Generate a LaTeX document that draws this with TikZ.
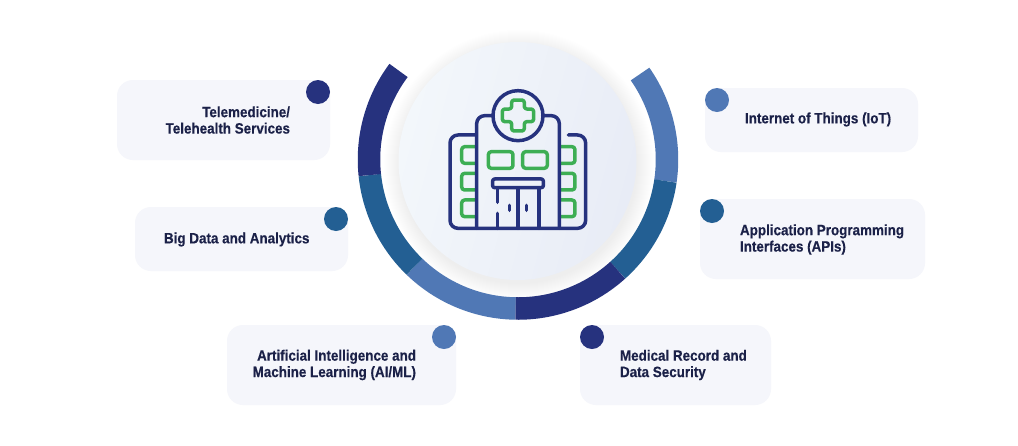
\documentclass[tikz,border=0pt]{standalone}
\usepackage{fontspec}
\setmainfont[FakeStretch=0.895,BoldFont={Liberation Sans Bold},BoldFeatures={FakeBold=0.4}]{Liberation Sans}
\definecolor{navy}{HTML}{26327E}
\definecolor{teal2}{HTML}{235F93}
\definecolor{lblue}{HTML}{5078B5}
\definecolor{boxbg}{HTML}{F5F6FB}
\definecolor{inkc}{HTML}{1B2148}
\definecolor{greenc}{HTML}{3DAE54}
\definecolor{discl}{HTML}{F3F7FB}
\definecolor{discr}{HTML}{E8ECF6}
\tikzset{
  cardbox/.style={draw=none,fill=boxbg,rounded corners=16pt,inner sep=0pt,outer sep=0pt},
  carddot/.style={circle,draw=none,inner sep=0pt,outer sep=0pt,minimum size=24pt},
  cardtext/.style={text=inkc,font=\bfseries\fontsize{15}{16.4}\selectfont,inner sep=0pt,outer sep=0pt},
  ringseg/.style={line width=22.5pt,line cap=butt},
  iconnavy/.style={draw=navy,line width=3.5pt,line cap=round,line join=round},
  icongreen/.style={draw=greenc,line width=3.5pt,line cap=round,line join=round}
}
\newcommand{\ringarc}[3]{\draw[ringseg,draw=#3] ({518+149*cos(#1)},{159.5+149*sin(#1)}) arc[start angle=#1,end angle=#2,radius=149];}
\begin{document}
\begin{tikzpicture}[x=1pt,y=-1pt]
\useasboundingbox (0,0) rectangle (1018,445);
\fill[white] (0,0) rectangle (1018,445);
% soft shadow
\foreach \r in {135,134,...,119}{
  \fill[black,opacity=0.0055] (519,165) circle[radius=\r];
}
% ring
\ringarc{-35}{8.3}{lblue}
\ringarc{8.3}{48}{teal2}
\ringarc{48}{91}{navy}
\ringarc{91}{134}{lblue}
\ringarc{134}{174}{teal2}
\ringarc{174}{216.7}{navy}
% disc
\node[circle,minimum size=238pt,inner sep=0pt,outer sep=0pt,left color=discl,right color=discr,shading angle=75] (disc) at (517.5,161) {};
% icon
\begin{scope}[shift={(440,85)},x=0.3333pt,y=-0.3333pt]
  \draw[icongreen,rounded corners=3pt] (145,200) rectangle ++(74,50);
  \draw[icongreen,rounded corners=3pt] (248,200) rectangle ++(74,50);
  \foreach \yy in {185,265,345}{
    \draw[icongreen,rounded corners=3pt] (108,\yy) -- (65,\yy) -- (65,\yy+50) -- (108,\yy+50);
    \draw[icongreen,rounded corners=3pt] (360,\yy) -- (405,\yy) -- (405,\yy+50) -- (360,\yy+50);
  }
  \draw[icongreen,rounded corners=2.5pt] (215,45) -- (253,45) -- (253,72) -- (281,72) -- (281,110) -- (253,110) -- (253,138) -- (215,138) -- (215,110) -- (187,110) -- (187,72) -- (215,72) -- cycle;
  \draw[iconnavy] (234,92) circle[radius=75];
  \draw[iconnavy,rounded corners=8pt] (108,150) -- (30,150) -- (30,430) -- (437,430) -- (437,150) -- (385,150);
  \draw[iconnavy,rounded corners=8pt] (110,430) -- (110,92) -- (160,92);
  \draw[iconnavy,rounded corners=8pt] (358,430) -- (358,92) -- (308,92);
  \draw[iconnavy,rounded corners=2pt] (158,282) rectangle (310,308);
  \draw[iconnavy] (172,310) -- (172,352);
  \draw[iconnavy] (172,385) -- (172,430);
  \draw[iconnavy] (234,310) -- (234,430);
  \draw[iconnavy] (297,310) -- (297,430);
  \draw[iconnavy] (209,361) -- (209,376);
  \draw[iconnavy] (259,361) -- (259,376);
\end{scope}
% cards
\node[cardbox,minimum width=213pt,minimum height=80pt] (boxa) at (223.5,120) {};
\node[cardbox,minimum width=213pt,minimum height=64pt] (boxb) at (241.5,239) {};
\node[cardbox,minimum width=229pt,minimum height=80pt] (boxc) at (341.5,365) {};
\node[cardbox,minimum width=191pt,minimum height=80pt] (boxd) at (675.5,365) {};
\node[cardbox,minimum width=225pt,minimum height=80pt] (boxe) at (812.5,239) {};
\node[cardbox,minimum width=213pt,minimum height=64pt] (boxf) at (811.5,120) {};
\node[carddot,fill=navy] (dota) at (318,92) {};
\node[carddot,fill=teal2] (dotb) at (336,219) {};
\node[carddot,fill=lblue] (dotc) at (444,337) {};
\node[carddot,fill=navy] (dotd) at (592,337) {};
\node[carddot,fill=teal2] (dote) at (712,211) {};
\node[carddot,fill=lblue] (dotf) at (717,100) {};
\node[cardtext,align=right,anchor=east] (texta) at (290,120) {Telemedicine/\\Telehealth Services};
\node[cardtext,anchor=west] (textb) at (164,239.5) {Big Data and Analytics};
\node[cardtext,align=right,anchor=east] (textc) at (416,365) {Artificial Intelligence and\\Machine Learning (AI/ML)};
\node[cardtext,align=left,anchor=west] (textd) at (620,365) {Medical Record and\\Data Security};
\node[cardtext,align=left,anchor=west] (texte) at (740,239.5) {Application Programming\\Interfaces (APIs)};
\node[cardtext,anchor=west] (textf) at (745,119.5) {Internet of Things (IoT)};
\end{tikzpicture}
\end{document}
